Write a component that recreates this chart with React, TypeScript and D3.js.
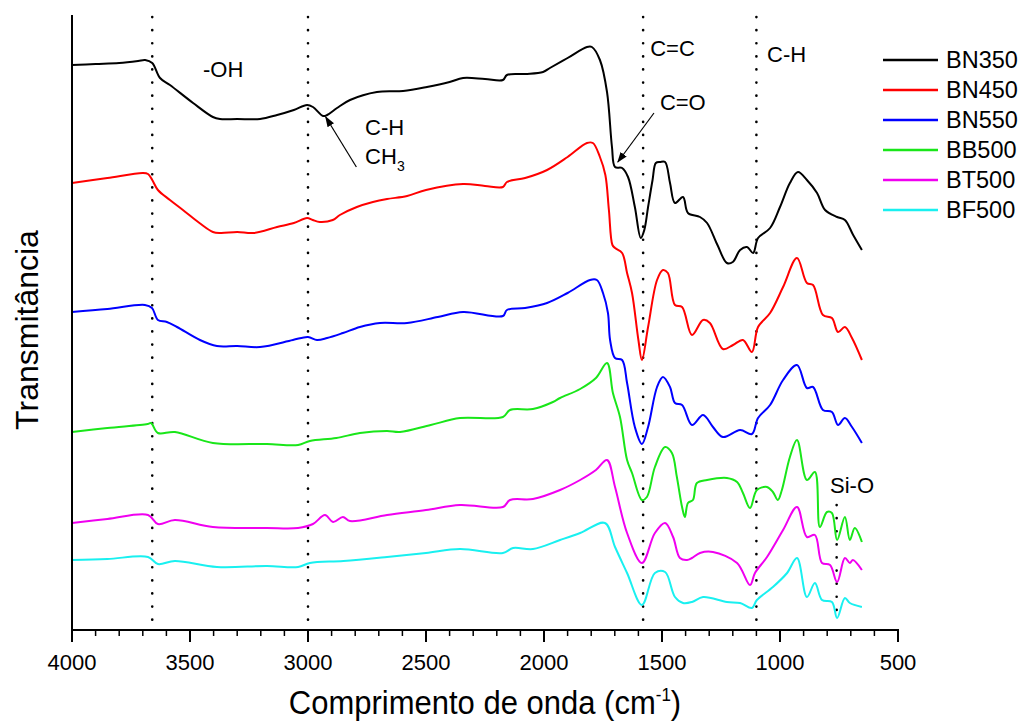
import React from "react";
import * as d3 from "d3";

// ---- data (wavenumber cm^-1, transmittance in arbitrary offset units) ----
const SERIES_NAMES = ["BN350", "BN450", "BN550", "BB500", "BT500", "BF500"];
const SERIES_COLORS = ["#000000", "#ff0000", "#0000ff", "#19e619", "#f000f0", "#19f0f0"];

const BN350: [number, number][] = [
  [4000, 565], [3900, 566], [3800, 567], [3720, 569], [3690, 570], [3660, 567], [3627, 552], [3585, 545],
  [3487, 527], [3403, 513], [3373, 511], [3300, 511], [3203, 511], [3131, 515], [3060, 520], [3004, 525],
  [2979, 523], [2936, 514], [2919, 515], [2877, 522], [2822, 530], [2708, 538], [2597, 539], [2496, 543],
  [2400, 548], [2343, 552], [2250, 551], [2174, 550], [2157, 555], [2080, 556], [2004, 558], [1975, 562],
  [1900, 572], [1818, 583], [1797, 583], [1763, 570], [1733, 538], [1712, 483], [1699, 463], [1669, 462],
  [1644, 453], [1615, 423], [1590, 392], [1575, 400], [1559, 423], [1540, 450], [1526, 467], [1508, 468],
  [1487, 468], [1466, 447], [1445, 427], [1411, 433], [1390, 417], [1339, 413], [1309, 407], [1265, 385],
  [1225, 367], [1200, 368], [1169, 380], [1140, 383], [1114, 377], [1093, 392], [1042, 402], [1000, 423],
  [958, 447], [924, 458], [886, 450], [843, 437], [809, 420], [758, 413], [725, 410], [690, 395], [653, 380],
];

const BN450: [number, number][] = [
  [4000, 447], [3850, 452], [3700, 457], [3678, 456], [3660, 450], [3636, 440], [3585, 430], [3530, 420],
  [3460, 407], [3403, 398], [3370, 397], [3300, 398], [3230, 397], [3131, 403], [3060, 407], [3004, 412],
  [2980, 410], [2950, 408], [2895, 410], [2865, 415], [2793, 423], [2725, 428], [2665, 431], [2580, 434],
  [2500, 440], [2343, 446], [2250, 444], [2174, 443], [2157, 448], [2080, 452], [1987, 460], [1900, 473],
  [1818, 487], [1793, 487], [1763, 473], [1740, 455], [1725, 420], [1710, 385], [1699, 382], [1669, 377],
  [1648, 357], [1627, 337], [1600, 290], [1585, 270], [1559, 303], [1521, 350], [1496, 360], [1475, 357],
  [1445, 325], [1415, 323], [1373, 295], [1326, 310], [1297, 307], [1242, 281], [1199, 285], [1157, 290],
  [1119, 278], [1093, 303], [1042, 317], [987, 343], [928, 372], [886, 347], [860, 345], [818, 315],
  [780, 312], [754, 298], [725, 303], [695, 292], [653, 270],
];

const BN550: [number, number][] = [
  [4000, 318], [3850, 321], [3691, 325], [3661, 322], [3636, 310], [3598, 308], [3555, 303], [3458, 290],
  [3386, 284], [3300, 284], [3203, 283], [3064, 290], [3000, 293], [2962, 290], [2919, 292], [2852, 297],
  [2780, 303], [2695, 307], [2580, 307], [2450, 313], [2343, 318], [2174, 314], [2157, 320], [2080, 322],
  [1987, 327], [1900, 337], [1805, 350], [1776, 350], [1750, 337], [1729, 317], [1720, 290], [1699, 272],
  [1669, 270], [1648, 247], [1615, 203], [1585, 186], [1559, 203], [1521, 243], [1496, 253], [1466, 243],
  [1445, 227], [1415, 225], [1373, 205], [1326, 215], [1284, 203], [1242, 193], [1169, 200], [1119, 196],
  [1093, 212], [1042, 225], [987, 250], [928, 265], [886, 242], [860, 243], [818, 220], [780, 218],
  [754, 205], [725, 212], [695, 203], [653, 187],
];

const BB500: [number, number][] = [
  [4000, 198], [3850, 202], [3680, 206], [3665, 207], [3636, 197], [3564, 198], [3403, 187], [3174, 186],
  [3042, 185], [2992, 189], [2880, 192], [2780, 197], [2665, 199], [2610, 198], [2480, 205], [2356, 212],
  [2174, 213], [2144, 220], [2047, 221], [1962, 228], [1932, 232], [1847, 241], [1780, 252], [1733, 267],
  [1708, 237], [1678, 213], [1648, 170], [1627, 157], [1585, 130], [1564, 133], [1530, 163], [1487, 183],
  [1458, 177], [1437, 153], [1415, 123], [1403, 113], [1390, 127], [1369, 130], [1352, 147], [1309, 150],
  [1225, 152], [1182, 148], [1157, 137], [1127, 122], [1098, 140], [1055, 143], [1030, 138], [1009, 130],
  [992, 140], [958, 173], [928, 190], [886, 150], [852, 158], [831, 103], [801, 118], [780, 117],
  [758, 90], [725, 113], [704, 90], [683, 102], [653, 88],
];

const BT500: [number, number][] = [
  [4000, 107], [3850, 111], [3678, 115], [3636, 106], [3564, 110], [3403, 103], [3174, 102], [3042, 102],
  [2979, 106], [2928, 115], [2894, 108], [2852, 113], [2822, 109], [2665, 115], [2500, 120], [2356, 125],
  [2174, 123], [2144, 130], [2047, 131], [1932, 140], [1847, 150], [1780, 160], [1733, 170], [1699, 143],
  [1648, 97], [1585, 67], [1530, 97], [1487, 107], [1453, 93], [1424, 72], [1394, 70], [1373, 72],
  [1339, 77], [1284, 78], [1182, 67], [1127, 45], [1106, 57], [1055, 73], [987, 100], [928, 123],
  [886, 93], [852, 95], [822, 67], [788, 65], [758, 48], [725, 72], [704, 67], [691, 70], [653, 60],
];

const BF500: [number, number][] = [
  [4000, 70], [3850, 71], [3678, 73], [3636, 66], [3564, 69], [3386, 63], [3174, 64], [3042, 63],
  [2992, 67], [2850, 69], [2665, 73], [2500, 77], [2356, 81], [2174, 77], [2131, 82], [2047, 81],
  [1932, 90], [1847, 97], [1742, 107], [1699, 83], [1648, 57], [1585, 25], [1530, 57], [1487, 58],
  [1445, 33], [1411, 27], [1373, 28], [1326, 33], [1225, 28], [1169, 27], [1119, 22], [1098, 30],
  [1030, 43], [970, 57], [928, 72], [886, 33], [852, 47], [822, 30], [780, 28], [758, 12], [725, 32],
  [704, 27], [653, 23],
];

const SERIES = [BN350, BN450, BN550, BB500, BT500, BF500];

const X_MAJOR_TICKS = [4000, 3500, 3000, 2500, 2000, 1500, 1000, 500];
const X_MINOR_TICKS = d3.range(4000, 499, -100);
const GUIDE_LINES = [3660, 3000, 1580, 1100];
const SIO_LINE = { wn: 760, from: 125, to: 8 };

const ANNOTATIONS = [
  { text: "-OH", wn: 3445, v: 553 },
  { text: "C-H", wn: 2758, v: 495 },
  { text: "C=C", wn: 1550, v: 574 },
  { text: "C=O", wn: 1509, v: 520 },
  { text: "C-H", wn: 1055, v: 568 },
  { text: "Si-O", wn: 788, v: 137 },
];
const SUB_LABEL = { text: "CH", sub: "3", wn: 2758, v: 466 };

const ARROWS = [
  { fromWn: 2795, fromV: 463, toWn: 2925, toV: 513 },
  { fromWn: 1534, fromV: 517, toWn: 1687, toV: 468 },
];

const W = 1020;
const H = 722;
const M = { left: 72, right: 898, top: 15, bottom: 630 };

export default function App() {
  const x = d3.scaleLinear().domain([4000, 500]).range([M.left, M.right]);
  const y = d3.scaleLinear().domain([0, 615]).range([M.bottom, M.top]);
  const line = d3
    .line<[number, number]>()
    .x((d) => x(d[0]))
    .y((d) => y(d[1]))
    .curve(d3.curveCatmullRom.alpha(0.5));

  const font = "Liberation Sans, Arial, sans-serif";

  return (
    <svg
      width={W}
      height={H}
      style={{ position: "absolute", left: 0, top: 0, background: "#fff" }}
      fontFamily={font}
    >
      <defs>
        <marker id="ah" viewBox="0 0 10 10" refX="9" refY="5" markerWidth="9" markerHeight="9" orient="auto">
          <path d="M0,1.5 L10,5 L0,8.5 z" fill="#000" />
        </marker>
      </defs>

      {/* dotted guide lines */}
      {GUIDE_LINES.map((wn) => (
        <line
          key={wn}
          x1={x(wn)}
          x2={x(wn)}
          y1={M.top + 2}
          y2={M.bottom - 4}
          stroke="#000"
          strokeWidth={2.6}
          strokeLinecap="round"
          strokeDasharray="0.1 13"
        />
      ))}
      <line
        x1={x(SIO_LINE.wn)}
        x2={x(SIO_LINE.wn)}
        y1={y(SIO_LINE.from)}
        y2={y(SIO_LINE.to)}
        stroke="#000"
        strokeWidth={2.6}
        strokeLinecap="round"
        strokeDasharray="0.1 13"
      />

      {/* spectra */}
      {SERIES.map((s, i) => (
        <path key={SERIES_NAMES[i]} d={line(s) || ""} fill="none" stroke={SERIES_COLORS[i]} strokeWidth={2} strokeLinejoin="round" />
      ))}

      {/* axes */}
      <line x1={M.left} x2={M.left} y1={M.top} y2={M.bottom} stroke="#000" strokeWidth={2} />
      <line x1={M.left - 1} x2={M.right + 1} y1={M.bottom} y2={M.bottom} stroke="#000" strokeWidth={2} />
      {X_MINOR_TICKS.map((t) => (
        <line key={"m" + t} x1={x(t)} x2={x(t)} y1={M.bottom} y2={M.bottom + 6} stroke="#000" strokeWidth={1.5} />
      ))}
      {X_MAJOR_TICKS.map((t) => (
        <g key={t}>
          <line x1={x(t)} x2={x(t)} y1={M.bottom} y2={M.bottom + 12} stroke="#000" strokeWidth={2} />
          <text x={x(t)} y={670} textAnchor="middle" fontSize={22} fill="#000">
            {t}
          </text>
        </g>
      ))}

      {/* axis titles */}
      <text
        transform={`translate(${(M.left + M.right) / 2},714) scale(1,1.1)`}
        textAnchor="middle"
        fontSize={31}
        fill="#000"
      >
        Comprimento de onda (cm
        <tspan dy={-12} fontSize={17}>-1</tspan>
        <tspan dy={12}>)</tspan>
      </text>
      <text transform="translate(38,330) rotate(-90)" textAnchor="middle" fontSize={32} fill="#000">
        Transmitância
      </text>

      {/* annotations */}
      {ANNOTATIONS.map((a, i) => (
        <text key={i} x={x(a.wn)} y={y(a.v)} fontSize={22} fill="#000">
          {a.text}
        </text>
      ))}
      <text x={x(SUB_LABEL.wn)} y={y(SUB_LABEL.v)} fontSize={22} fill="#000">
        {SUB_LABEL.text}
        <tspan dy={7} fontSize={14}>{SUB_LABEL.sub}</tspan>
      </text>
      {ARROWS.map((a, i) => (
        <line
          key={i}
          x1={x(a.fromWn)}
          y1={y(a.fromV)}
          x2={x(a.toWn)}
          y2={y(a.toV)}
          stroke="#000"
          strokeWidth={1.2}
          markerEnd="url(#ah)"
        />
      ))}

      {/* legend */}
      {SERIES_NAMES.map((n, i) => (
        <g key={n} transform={`translate(883, ${60 + i * 30})`}>
          <line x1={0} x2={55} y1={0} y2={0} stroke={SERIES_COLORS[i]} strokeWidth={2.5} />
          <text x={63} y={8} fontSize={23.5} fill="#000">
            {n}
          </text>
        </g>
      ))}
    </svg>
  );
}
